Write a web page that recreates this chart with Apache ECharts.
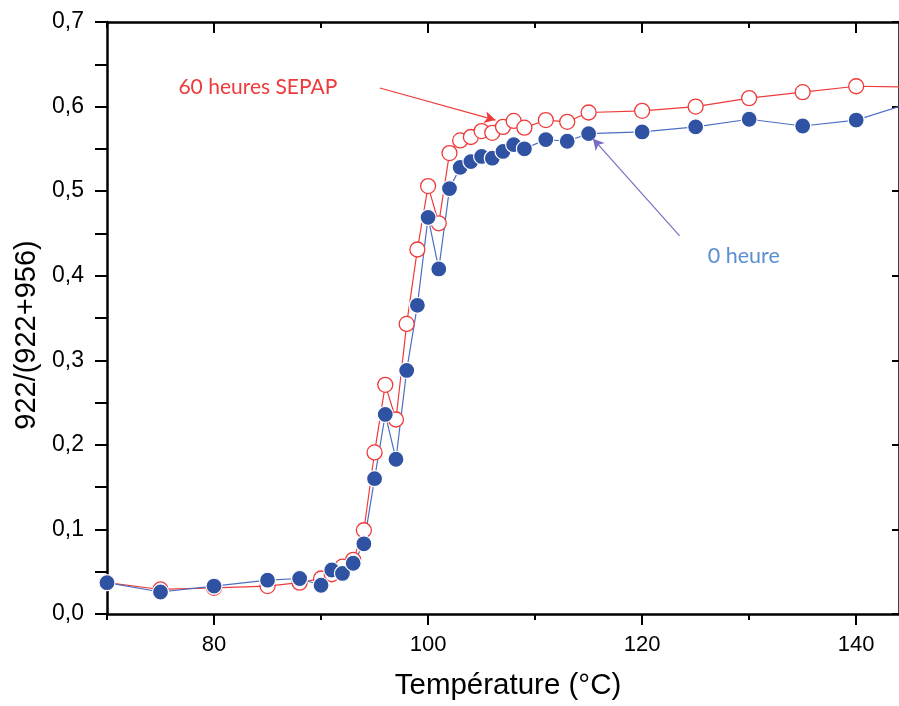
<!DOCTYPE html>
<html>
<head>
<meta charset="utf-8">
<script src="https://cdn.jsdelivr.net/npm/echarts@6/dist/echarts.min.js"></script>
<style>html,body{margin:0;padding:0;background:#fff}#c{width:899px;height:706px}</style>
</head>
<body>
<div id="c"></div>
<script>
// Temperatures (°C)
const temperatures = [70,75,80,85,88,90,91,92,93,94,95,96,97,98,99,100,101,102,103,104,105,106,107,108,109,111,113,115,120,125,130,135,140,145];
// 0 heure (filled blue)
const heure0 = [0.037,0.026,0.033,0.040,0.042,0.034,0.052,0.048,0.060,0.083,0.160,0.236,0.183,0.288,0.365,0.469,0.408,0.503,0.528,0.535,0.541,0.539,0.547,0.555,0.550,0.561,0.559,0.568,0.570,0.576,0.585,0.577,0.584,0.604];
// 60 heures SEPAP (open red)
const heures60 = [0.037,0.029,0.031,0.033,0.037,0.042,0.047,0.056,0.064,0.099,0.191,0.271,0.230,0.343,0.431,0.506,0.462,0.545,0.560,0.564,0.571,0.569,0.576,0.583,0.575,0.584,0.582,0.593,0.595,0.600,0.610,0.617,0.624,0.623];
const xMajorTicks = [80,100,120,140];
const xMinorTicks = [70,90,110,130];

const redC = '#f03a3a', blueMark = '#2f52a2', blueLine = '#4d6fc2';
const font = '"Liberation Sans", Arial, sans-serif';
const noteFont = 'Lato, "Open Sans", sans-serif';

const chart = echarts.init(document.getElementById('c'));
const xBase = {type:'value', min:70, max:144, splitLine:{show:false}, gridIndex:0};
chart.setOption({
  animation:false,
  grid:{left:107, right:-4, top:22, bottom:92, containLabel:false},
  xAxis:[
    Object.assign({}, xBase, {position:'bottom',
      axisLine:{lineStyle:{color:'#000', width:2.5}},
      axisTick:{customValues:xMajorTicks, length:11, lineStyle:{color:'#000', width:2}},
      axisLabel:{customValues:xMajorTicks, fontSize:22, fontFamily:font, color:'#000', margin:20},
      name:'Température (°C)', nameLocation:'middle', nameGap:57,
      nameTextStyle:{fontSize:29.5, fontFamily:font, color:'#000', padding:[0,0,0,10]}}),
    Object.assign({}, xBase, {position:'bottom',
      axisLine:{show:false},
      axisTick:{customValues:xMinorTicks, length:6, lineStyle:{color:'#000', width:2}},
      axisLabel:{show:false}}),
    Object.assign({}, xBase, {position:'top',
      axisLine:{lineStyle:{color:'#000', width:2.5}},
      axisTick:{customValues:xMajorTicks, inside:true, length:11, lineStyle:{color:'#000', width:2}},
      axisLabel:{show:false}}),
    Object.assign({}, xBase, {position:'top',
      axisLine:{show:false},
      axisTick:{customValues:xMinorTicks, inside:true, length:6, lineStyle:{color:'#000', width:2}},
      axisLabel:{show:false}})
  ],
  yAxis:[
    {type:'value', min:0, max:0.7, interval:0.05, position:'left', splitLine:{show:false},
      axisLine:{lineStyle:{color:'#000', width:2.5}},
      axisTick:{length:12, lineStyle:{color:'#000', width:2}},
      axisLabel:{fontSize:23, fontFamily:font, color:'#000', margin:23,
        formatter:v => (Math.round(v*100)%10===0) ? v.toFixed(1).replace('.',',') : ''},
      name:'922/(922+956)', nameLocation:'middle', nameGap:66,
      nameTextStyle:{fontSize:29, fontFamily:font, color:'#000', padding:[0,34,0,0]}},
    {type:'value', min:0, max:0.7, interval:0.1, position:'right', splitLine:{show:false},
      axisLine:{lineStyle:{color:'#000', width:2.5}},
      axisTick:{inside:true, length:7, lineStyle:{color:'#000', width:2}},
      axisLabel:{show:false}}
  ],
  series:[
    {type:'line', name:'60 heures SEPAP', xAxisIndex:0, yAxisIndex:0,
      data:temperatures.map((t,i)=>[t, heures60[i]]),
      symbol:'circle', symbolSize:15, showAllSymbol:true,
      itemStyle:{color:'#fff', borderColor:redC, borderWidth:1.3},
      lineStyle:{color:redC, width:1.2},
      markLine:{silent:true, symbol:['none','arrow'], symbolSize:[9,11],
        lineStyle:{color:redC, width:1.2, type:'solid'}, label:{show:false},
        data:[[{coord:[95.5,0.622]},{coord:[106.3,0.584]}]]},
      markPoint:{silent:true, symbol:'circle', symbolSize:0,
        label:{show:true, position:'inside', formatter:'60 heures SEPAP', fontSize:21, fontFamily:noteFont, color:'#ee3a3a'},
        data:[{coord:[84.1,0.623]}]}
    },
    {type:'line', name:'0 heure', xAxisIndex:0, yAxisIndex:0,
      data:temperatures.map((t,i)=>[t, heure0[i]]),
      symbol:'circle', symbolSize:16, showAllSymbol:true,
      itemStyle:{color:blueMark, borderColor:'#fff', borderWidth:1.2},
      lineStyle:{color:blueLine, width:1.2},
      markLine:{silent:true, symbol:['none','arrow'], symbolSize:[9,11],
        lineStyle:{color:'#7a6cc0', width:1.2, type:'solid'}, label:{show:false},
        data:[[{coord:[123.5,0.447]},{coord:[115.4,0.562]}]]},
      markPoint:{silent:true, symbol:'circle', symbolSize:0,
        label:{show:true, position:'inside', formatter:'0 heure', fontSize:21.5, fontFamily:noteFont, color:'#5b8ed1'},
        data:[{coord:[129.5,0.423]}]}
    }
  ]
});
</script>
</body>
</html>
